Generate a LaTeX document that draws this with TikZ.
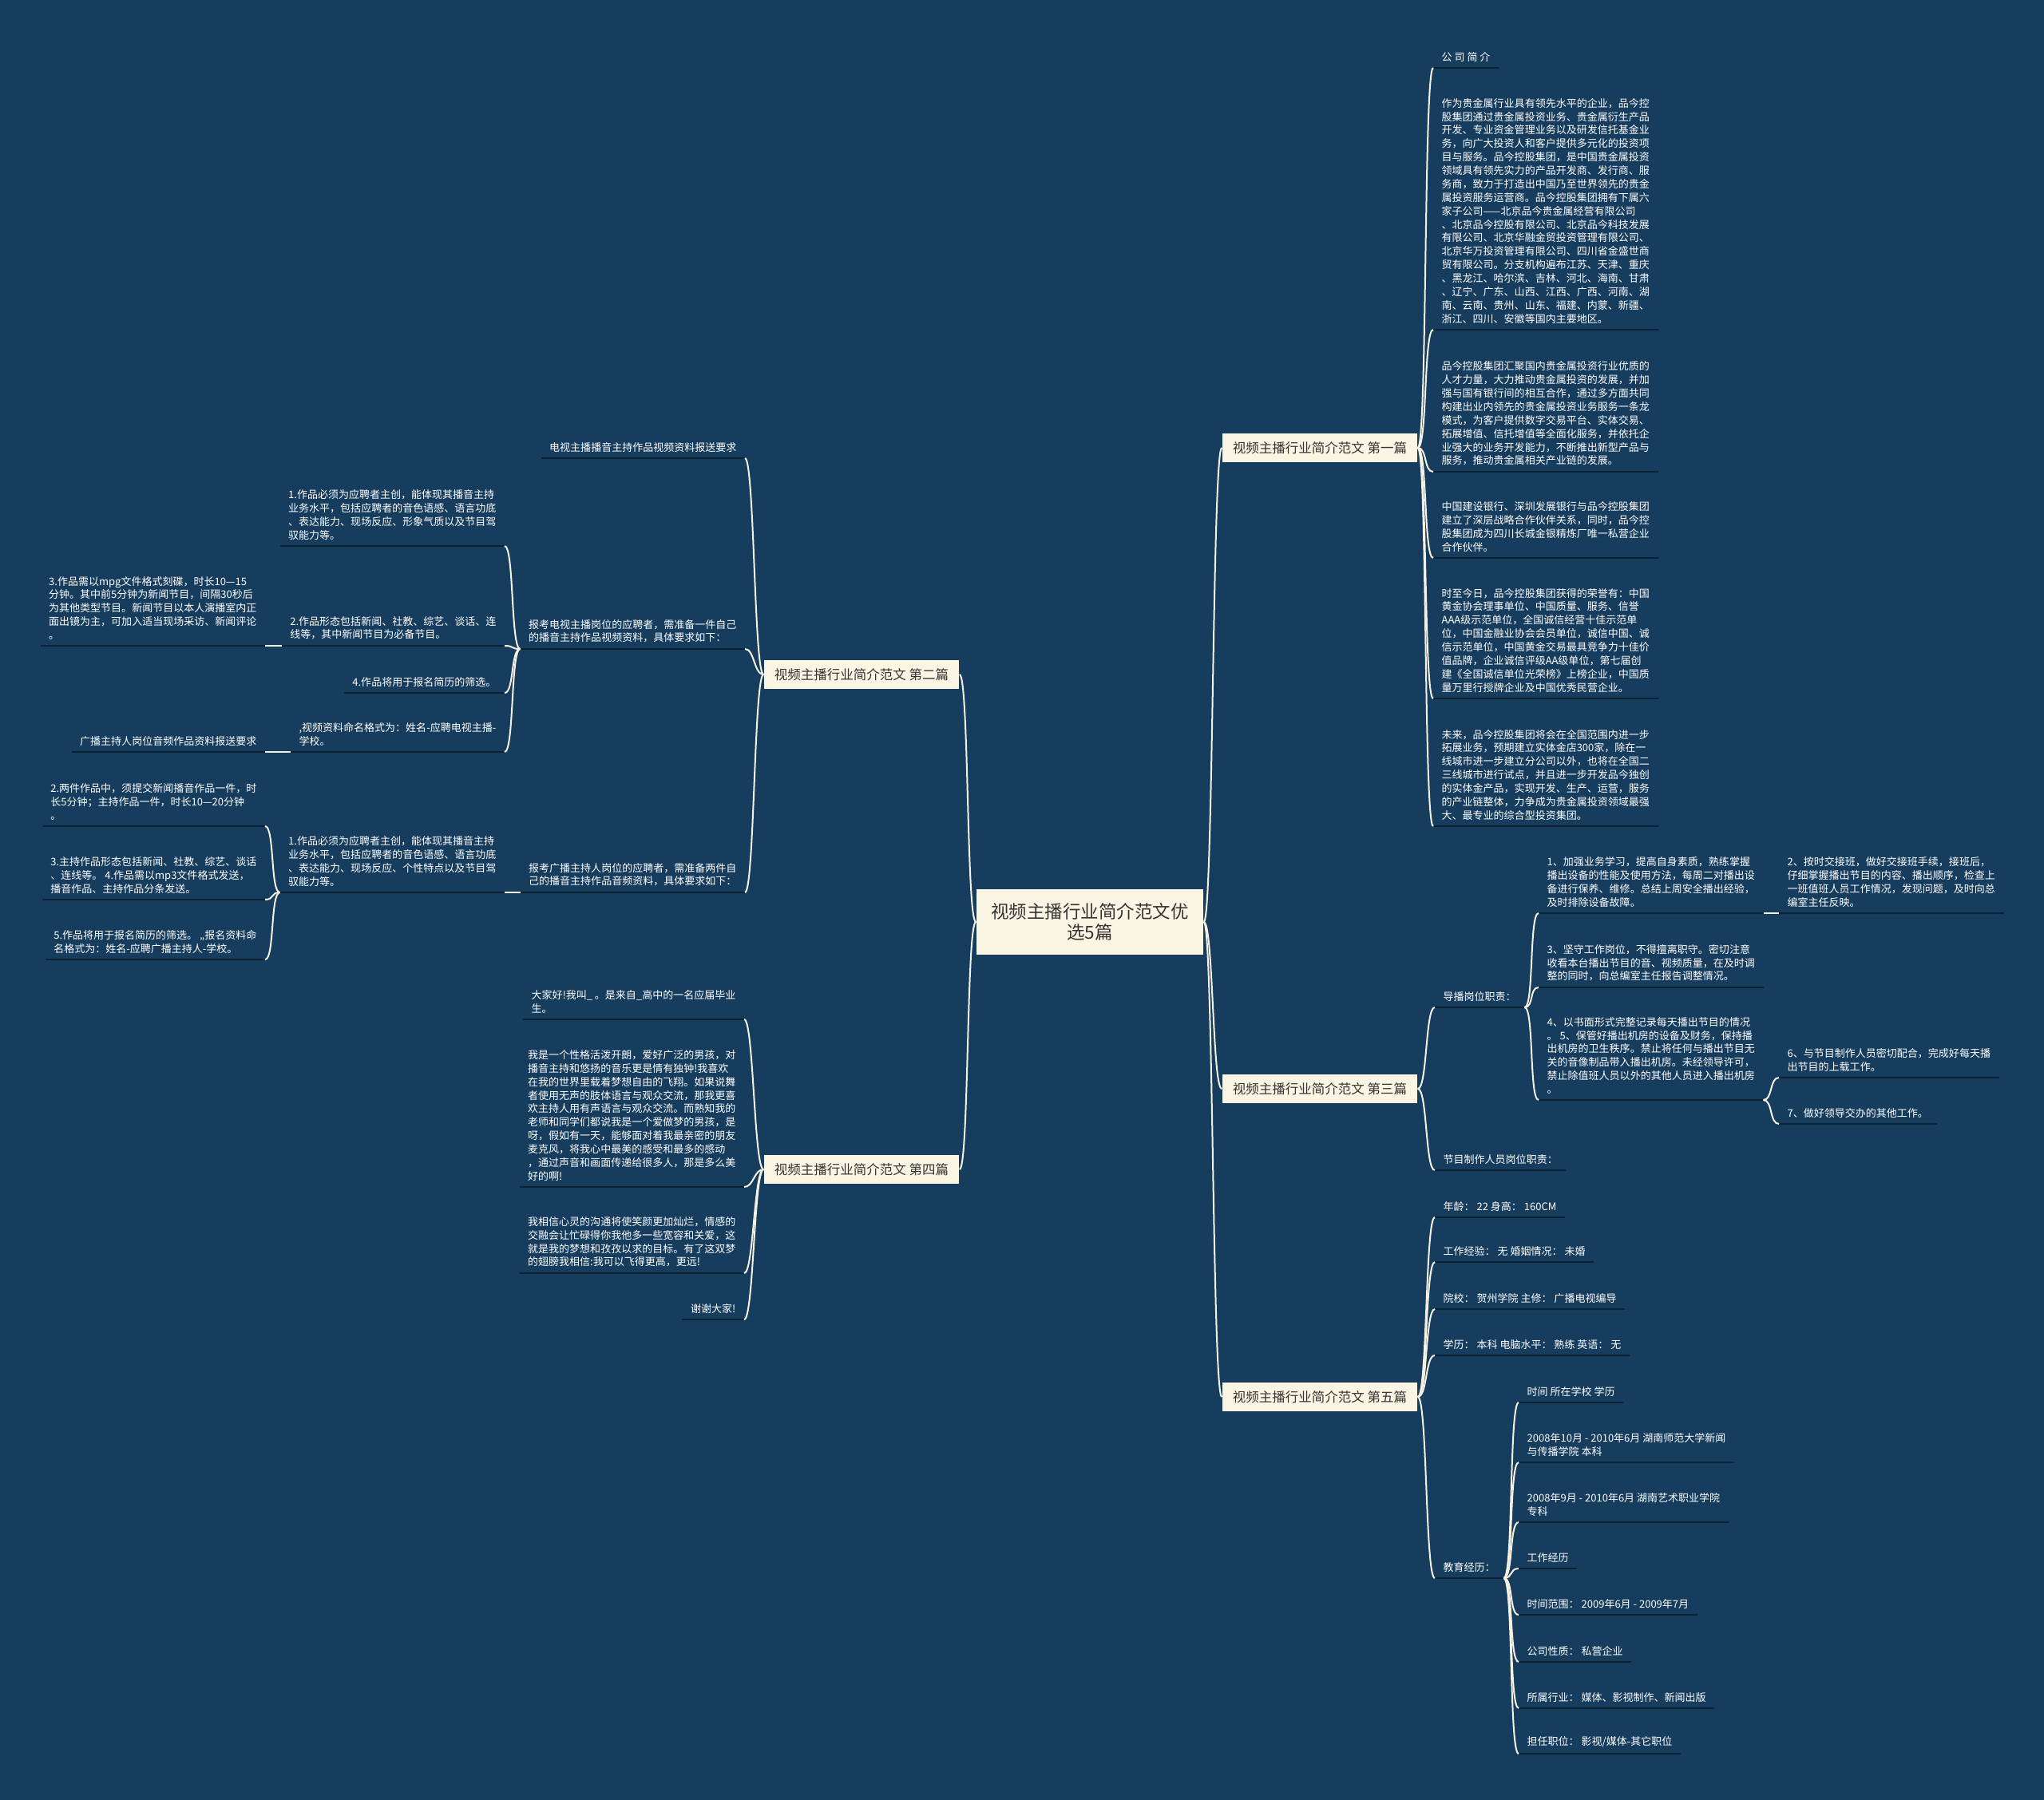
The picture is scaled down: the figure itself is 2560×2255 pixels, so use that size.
\documentclass[tikz,border=0pt]{standalone}
\usepackage{fontspec}
\setmainfont{Noto Sans CJK SC}
\definecolor{bgblue}{HTML}{173D5E}
\definecolor{cream}{HTML}{FBF6E4}
\definecolor{wire}{HTML}{F4F0E2}
\definecolor{rulecol}{HTML}{0C2134}
\definecolor{ink}{HTML}{333333}
\newcommand\leaffont{\fontsize{3.7}{4.8}\selectfont}
\newcommand\topicfont{\fontsize{4.7}{5.6}\selectfont}
\newcommand\rootfont{\fontsize{6.4}{7.6}\selectfont}

\begin{document}
\begin{tikzpicture}[
    x=0.1mm, y=-0.1mm,
    root/.style={rectangle, fill=cream, text=ink, font=\rootfont, align=center, minimum width=28.4mm, minimum height=8.2mm, inner sep=0.5mm},
    topic/.style={rectangle, fill=cream, text=ink, font=\topicfont, minimum width=24.4mm, minimum height=3.6mm, inner sep=0.5mm},
    uline/.style={draw=rulecol, line width=0.2mm},
    leaf/.style={text=white, font=\leaffont, align=left, inner xsep=1mm, inner ysep=0.7mm,
        append after command={(\tikzlastnode.south west) edge[uline] (\tikzlastnode.south east)}},
    wirer/.style={draw=wire, line width=0.2mm, out=0, in=180, distance=1.2mm},
    wirel/.style={draw=wire, line width=0.2mm, out=180, in=0, distance=1.2mm}
]
\fill[bgblue] (0,0) rectangle (2560,2255);
\useasboundingbox (0,0) rectangle (2560,2255);

% Root and main topics
\node[root] (root) at (1365,1155) {视频主播行业简介范文优\\选5篇};
\node[topic] (p1) at (1653,561) {视频主播行业简介范文 第一篇};
\node[topic] (p2) at (1079,845) {视频主播行业简介范文 第二篇};
\node[topic] (p3) at (1653,1364) {视频主播行业简介范文 第三篇};
\node[topic] (p4) at (1079,1465) {视频主播行业简介范文 第四篇};
\node[topic] (p5) at (1653,1750) {视频主播行业简介范文 第五篇};

% First piece
\node[leaf, anchor=south west] (r1a) at (1795,85) {公 司 简 介};
\node[leaf, anchor=south west] (r1b) at (1795,413) {作为贵金属行业具有领先水平的企业，品今控\\股集团通过贵金属投资业务、贵金属衍生产品\\开发、专业资金管理业务以及研发信托基金业\\务，向广大投资人和客户提供多元化的投资项\\目与服务。品今控股集团，是中国贵金属投资\\领域具有领先实力的产品开发商、发行商、服\\务商，致力于打造出中国乃至世界领先的贵金\\属投资服务运营商。品今控股集团拥有下属六\\家子公司——北京品今贵金属经营有限公司\\、北京品今控股有限公司、北京品今科技发展\\有限公司、北京华融金贸投资管理有限公司、\\北京华万投资管理有限公司、四川省金盛世商\\贸有限公司。分支机构遍布江苏、天津、重庆\\、黑龙江、哈尔滨、吉林、河北、海南、甘肃\\、辽宁、广东、山西、江西、广西、河南、湖\\南、云南、贵州、山东、福建、内蒙、新疆、\\浙江、四川、安徽等国内主要地区。};
\node[leaf, anchor=south west] (r1c) at (1795,591) {品今控股集团汇聚国内贵金属投资行业优质的\\人才力量，大力推动贵金属投资的发展，并加\\强与国有银行间的相互合作，通过多方面共同\\构建出业内领先的贵金属投资业务服务一条龙\\模式，为客户提供数字交易平台、实体交易、\\拓展增值、信托增值等全面化服务，并依托企\\业强大的业务开发能力，不断推出新型产品与\\服务，推动贵金属相关产业链的发展。};
\node[leaf, anchor=south west] (r1d) at (1795,699) {中国建设银行、深圳发展银行与品今控股集团\\建立了深层战略合作伙伴关系，同时，品今控\\股集团成为四川长城金银精炼厂唯一私营企业\\合作伙伴。};
\node[leaf, anchor=south west] (r1e) at (1795,875) {时至今日，品今控股集团获得的荣誉有：中国\\黄金协会理事单位、中国质量、服务、信誉\\AAA级示范单位，全国诚信经营十佳示范单\\位，中国金融业协会会员单位，诚信中国、诚\\信示范单位，中国黄金交易最具竞争力十佳价\\值品牌，企业诚信评级AA级单位，第七届创\\建《全国诚信单位光荣榜》上榜企业，中国质\\量万里行授牌企业及中国优秀民营企业。};
\node[leaf, anchor=south west] (r1f) at (1795,1035) {未来，品今控股集团将会在全国范围内进一步\\拓展业务，预期建立实体金店300家，除在一\\线城市进一步建立分公司以外，也将在全国二\\三线城市进行试点，并且进一步开发品今独创\\的实体金产品，实现开发、生产、运营，服务\\的产业链整体，力争成为贵金属投资领域最强\\大、最专业的综合型投资集团。};

% Third piece
\node[leaf, anchor=south west] (r3a) at (1797,1262) {导播岗位职责：};
\node[leaf, anchor=south west] (r3b) at (1797,1466) {节目制作人员岗位职责：};
\node[leaf, anchor=south west] (r3a1) at (1927,1144) {1、加强业务学习，提高自身素质，熟练掌握\\播出设备的性能及使用方法，每周二对播出设\\备进行保养、维修。总结上周安全播出经验，\\及时排除设备故障。};
\node[leaf, anchor=south west] (r3a2) at (1927,1237) {3、坚守工作岗位，不得擅离职守。密切注意\\收看本台播出节目的音、视频质量，在及时调\\整的同时，向总编室主任报告调整情况。};
\node[leaf, anchor=south west] (r3a3) at (1927,1378) {4、以书面形式完整记录每天播出节目的情况\\。 5、保管好播出机房的设备及财务，保持播\\出机房的卫生秩序。禁止将任何与播出节目无\\关的音像制品带入播出机房。未经领导许可，\\禁止除值班人员以外的其他人员进入播出机房\\。};
\node[leaf, anchor=south west] (r3a1x) at (2228,1144) {2、按时交接班，做好交接班手续，接班后，\\仔细掌握播出节目的内容、播出顺序，检查上\\一班值班人员工作情况，发现问题，及时向总\\编室主任反映。};
\node[leaf, anchor=south west] (r3a3x) at (2228,1350) {6、与节目制作人员密切配合，完成好每天播\\出节目的上载工作。};
\node[leaf, anchor=south west] (r3a3y) at (2228,1408) {7、做好领导交办的其他工作。};

% Fifth piece
\node[leaf, anchor=south west] (r5a) at (1797,1525) {年龄： 22 身高： 160CM};
\node[leaf, anchor=south west] (r5b) at (1797,1581) {工作经验： 无 婚姻情况： 未婚};
\node[leaf, anchor=south west] (r5c) at (1797,1640) {院校： 贺州学院 主修： 广播电视编导};
\node[leaf, anchor=south west] (r5d) at (1797,1698) {学历： 本科 电脑水平： 熟练 英语： 无};
\node[leaf, anchor=south west] (r5e) at (1797,1977) {教育经历：};
\node[leaf, anchor=south west] (e1) at (1902,1757) {时间 所在学校 学历};
\node[leaf, anchor=south west] (e2) at (1902,1832) {2008年10月 - 2010年6月 湖南师范大学新闻\\与传播学院 本科};
\node[leaf, anchor=south west] (e3) at (1902,1907) {2008年9月 - 2010年6月 湖南艺术职业学院\\专科};
\node[leaf, anchor=south west] (e4) at (1902,1965) {工作经历};
\node[leaf, anchor=south west] (e5) at (1902,2023) {时间范围： 2009年6月 - 2009年7月};
\node[leaf, anchor=south west] (e6) at (1902,2082) {公司性质： 私营企业};
\node[leaf, anchor=south west] (e7) at (1902,2140) {所属行业： 媒体、影视制作、新闻出版};
\node[leaf, anchor=south west] (e8) at (1902,2197) {担任职位： 影视/媒体-其它职位};

% Second piece
\node[leaf, anchor=south east] (l2a) at (933,574) {电视主播播音主持作品视频资料报送要求};
\node[leaf, anchor=south east] (l2b) at (933,813) {报考电视主播岗位的应聘者，需准备一件自己\\的播音主持作品视频资料，具体要求如下：};
\node[leaf, anchor=south east] (l2c) at (933,1118) {报考广播主持人岗位的应聘者，需准备两件自\\己的播音主持作品音频资料，具体要求如下：};
\node[leaf, anchor=south east] (l2b1) at (632,684) {1.作品必须为应聘者主创，能体现其播音主持\\业务水平，包括应聘者的音色语感、语言功底\\、表达能力、现场反应、形象气质以及节目驾\\驭能力等。};
\node[leaf, anchor=south east] (l2b2) at (632,809) {2.作品形态包括新闻、社教、综艺、谈话、连\\线等，其中新闻节目为必备节目。};
\node[leaf, anchor=south east] (l2b3) at (632,868) {4.作品将用于报名简历的筛选。};
\node[leaf, anchor=south east] (l2b4) at (632,942) {,视频资料命名格式为：姓名-应聘电视主播-\\学校。};
\node[leaf, anchor=south east] (l2b2x) at (332,809) {3.作品需以mpg文件格式刻碟，时长10—15\\分钟。其中前5分钟为新闻节目，间隔30秒后\\为其他类型节目。新闻节目以本人演播室内正\\面出镜为主，可加入适当现场采访、新闻评论\\。};
\node[leaf, anchor=south east] (l2b4x) at (332,942) {广播主持人岗位音频作品资料报送要求};
\node[leaf, anchor=south east] (l2c1) at (632,1118) {1.作品必须为应聘者主创，能体现其播音主持\\业务水平，包括应聘者的音色语感、语言功底\\、表达能力、现场反应、个性特点以及节目驾\\驭能力等。};
\node[leaf, anchor=south east] (l2c1a) at (332,1035) {2.两件作品中，须提交新闻播音作品一件，时\\长5分钟；主持作品一件，时长10—20分钟\\。};
\node[leaf, anchor=south east] (l2c1b) at (332,1127) {3.主持作品形态包括新闻、社教、综艺、谈话\\、连线等。 4.作品需以mp3文件格式发送，\\播音作品、主持作品分条发送。};
\node[leaf, anchor=south east] (l2c1c) at (332,1202) {5.作品将用于报名简历的筛选。 ,,报名资料命\\名格式为：姓名-应聘广播主持人-学校。};

% Fourth piece
\node[leaf, anchor=south east] (l4a) at (932,1277) {大家好!我叫\_ 。是来自\_高中的一名应届毕业\\生。};
\node[leaf, anchor=south east] (l4b) at (932,1487) {我是一个性格活泼开朗，爱好广泛的男孩，对\\播音主持和悠扬的音乐更是情有独钟!我喜欢\\在我的世界里载着梦想自由的飞翔。如果说舞\\者使用无声的肢体语言与观众交流，那我更喜\\欢主持人用有声语言与观众交流。而熟知我的\\老师和同学们都说我是一个爱做梦的男孩，是\\呀，假如有一天，能够面对着我最亲密的朋友\\ 麦克风，将我心中最美的感受和最多的感动\\，通过声音和画面传递给很多人，那是多么美\\好的啊!};
\node[leaf, anchor=south east] (l4c) at (932,1595) {我相信心灵的沟通将使笑颜更加灿烂，情感的\\交融会让忙碌得你我他多一些宽容和关爱，这\\就是我的梦想和孜孜以求的目标。有了这双梦\\的翅膀我相信:我可以飞得更高，更远!};
\node[leaf, anchor=south east] (l4d) at (932,1653) {谢谢大家!};

% Connectors
\foreach \t in {p1,p3,p5} \draw[wirer] (root.east) to (\t.west);
\foreach \t in {p2,p4} \draw[wirel] (root.west) to (\t.east);
\foreach \n in {r1a,r1b,r1c,r1d,r1e,r1f} \draw[wirer] (p1.east) to (\n.south west);
\foreach \n in {r3a,r3b} \draw[wirer] (p3.east) to (\n.south west);
\foreach \n in {r3a1,r3a2,r3a3} \draw[wirer] (r3a.south east) to (\n.south west);
\draw[wirer] (r3a1.south east) to (r3a1x.south west);
\foreach \n in {r3a3x,r3a3y} \draw[wirer] (r3a3.south east) to (\n.south west);
\foreach \n in {r5a,r5b,r5c,r5d,r5e} \draw[wirer] (p5.east) to (\n.south west);
\foreach \n in {e1,e2,e3,e4,e5,e6,e7,e8} \draw[wirer] (r5e.south east) to (\n.south west);
\foreach \n in {l2a,l2b,l2c} \draw[wirel] (p2.west) to (\n.south east);
\foreach \n in {l2b1,l2b2,l2b3,l2b4} \draw[wirel] (l2b.south west) to (\n.south east);
\draw[wirel] (l2b2.south west) to (l2b2x.south east);
\draw[wirel] (l2b4.south west) to (l2b4x.south east);
\draw[wirel] (l2c.south west) to (l2c1.south east);
\foreach \n in {l2c1a,l2c1b,l2c1c} \draw[wirel] (l2c1.south west) to (\n.south east);
\foreach \n in {l4a,l4b,l4c,l4d} \draw[wirel] (p4.west) to (\n.south east);
\end{tikzpicture}
\end{document}
